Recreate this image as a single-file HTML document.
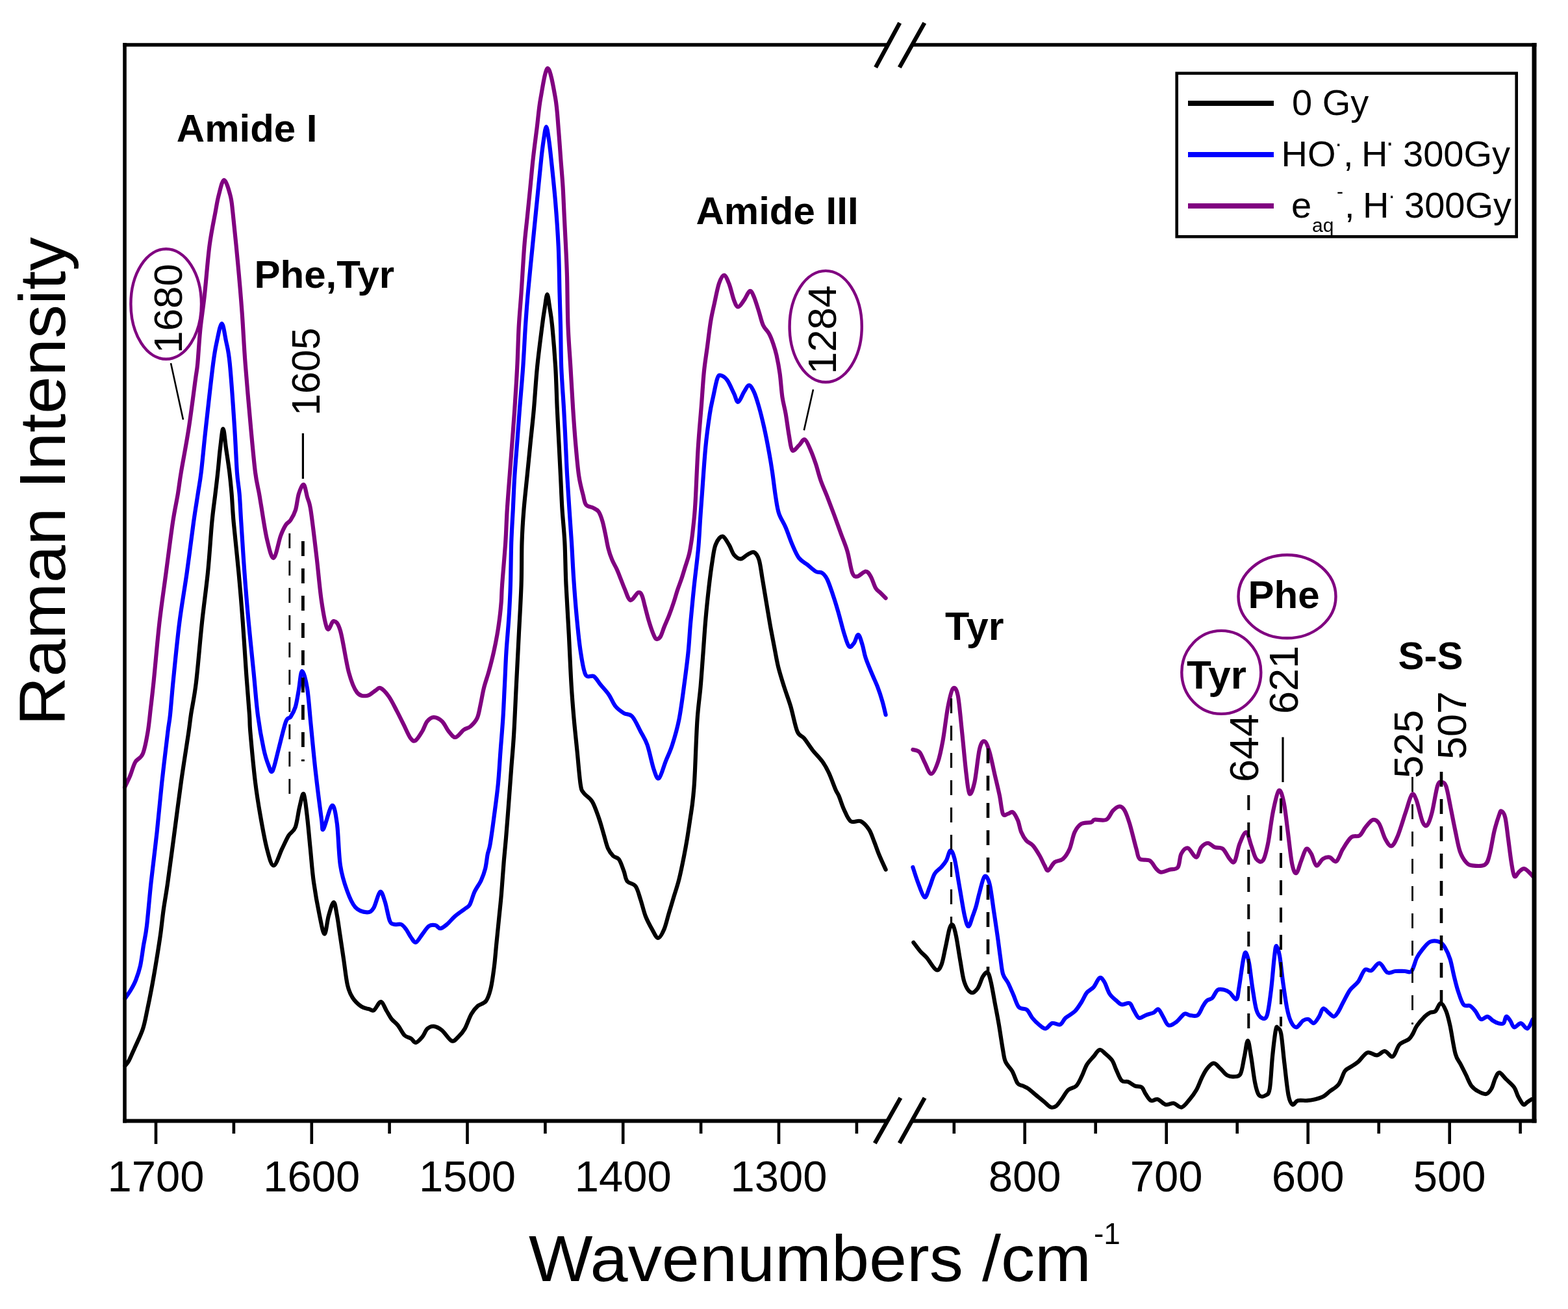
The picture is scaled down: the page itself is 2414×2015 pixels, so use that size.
<!DOCTYPE html>
<html><head><meta charset="utf-8"><title>Raman spectra</title>
<style>
html,body{margin:0;padding:0;background:#fff;}
body{width:2414px;height:2015px;overflow:hidden;}
svg{display:block;}
text{font-family:"Liberation Sans",Arial,sans-serif;fill:#000;}
.b{font-weight:bold;}
</style></head><body>
<svg width="2414" height="2015" viewBox="0 0 2414 2015">
<rect width="2414" height="2015" fill="#fff"/>
<g fill="none" stroke-linejoin="round" stroke-linecap="round">
<path d="M192.0,1212.0 C193.4,1209.0 197.8,1200.3 200.5,1193.8 C203.2,1187.3 205.0,1178.8 208.2,1173.2 C211.4,1167.6 216.6,1168.1 219.8,1160.4 C223.0,1152.7 225.5,1138.7 227.5,1127.0 C229.5,1115.3 230.5,1102.8 232.0,1090.0 C233.5,1077.2 234.2,1072.0 236.5,1050.0 C238.8,1028.0 242.3,986.2 245.5,958.0 C248.7,929.8 252.3,906.7 255.7,881.0 C259.1,855.3 263.0,824.2 266.0,804.0 C269.0,783.8 271.8,772.8 273.9,760.0 C276.0,747.2 276.0,743.7 278.8,727.0 C281.6,710.3 286.8,683.8 290.5,660.0 C294.2,636.2 298.6,600.7 300.9,584.0 C303.2,567.3 302.9,572.9 304.2,560.0 C305.4,547.1 306.6,524.1 308.4,506.7 C310.2,489.3 312.4,476.8 314.8,455.4 C317.2,434.0 319.7,399.8 322.5,378.4 C325.3,357.0 329.1,339.9 331.5,327.0 C333.9,314.1 334.4,309.3 336.6,301.0 C338.9,292.7 342.0,277.0 345.0,277.0 C348.0,277.0 352.4,292.7 354.6,301.0 C356.8,309.3 356.5,309.8 358.4,327.0 C360.3,344.2 363.7,378.3 366.1,404.0 C368.5,429.7 370.7,455.0 372.6,481.0 C374.5,507.0 375.4,530.2 377.7,560.0 C380.0,589.8 383.8,632.2 386.3,660.0 C388.9,687.8 390.9,710.3 393.0,727.0 C395.1,743.7 397.5,751.5 399.0,760.0 C400.5,768.5 400.0,766.3 402.0,778.0 C404.0,789.7 407.8,816.5 411.0,830.0 C414.2,843.5 417.7,859.8 421.2,859.0 C424.7,858.2 428.9,833.5 432.0,825.0 C435.1,816.5 437.4,812.1 440.0,808.0 C442.6,803.9 444.9,804.4 447.4,800.6 C449.9,796.8 452.9,791.8 455.0,785.0 C457.1,778.2 457.9,766.5 460.0,760.0 C462.1,753.5 465.3,745.2 467.5,746.0 C469.7,746.8 471.2,758.3 473.0,765.0 C474.8,771.7 476.1,770.3 478.5,786.0 C480.9,801.7 484.9,835.9 487.6,859.0 C490.3,882.1 492.2,906.5 494.9,924.7 C497.6,942.9 500.9,962.8 504.0,968.0 C507.1,973.2 510.5,955.5 513.8,956.0 C517.1,956.5 520.1,957.8 524.0,971.0 C527.9,984.2 532.7,1019.2 537.0,1035.0 C541.3,1050.8 545.0,1060.0 549.7,1066.0 C554.4,1072.0 560.3,1071.5 565.0,1071.0 C569.7,1070.5 574.5,1065.0 578.0,1063.0 C581.5,1061.0 582.3,1057.7 585.7,1059.2 C589.1,1060.7 594.2,1066.0 598.5,1072.0 C602.8,1078.0 607.4,1087.8 611.3,1095.1 C615.1,1102.4 618.2,1108.8 621.6,1115.7 C625.0,1122.6 628.9,1132.2 631.9,1136.2 C634.9,1140.2 636.6,1141.7 639.6,1140.0 C642.6,1138.3 646.9,1130.9 649.9,1126.0 C652.9,1121.1 654.6,1114.2 657.6,1110.5 C660.6,1106.8 663.9,1104.1 667.8,1104.1 C671.6,1104.1 676.9,1106.8 680.7,1110.5 C684.6,1114.2 687.5,1121.9 690.9,1126.0 C694.3,1130.1 697.4,1135.4 701.2,1135.0 C705.1,1134.6 710.1,1126.2 714.0,1123.4 C717.9,1120.6 720.9,1121.2 724.3,1118.2 C727.7,1115.2 732.0,1111.0 734.6,1105.4 C737.2,1099.9 738.0,1092.6 739.7,1084.9 C741.4,1077.2 742.8,1067.8 744.9,1059.2 C747.0,1050.6 750.0,1042.9 752.6,1033.5 C755.2,1024.1 758.2,1012.1 760.3,1002.7 C762.4,993.3 763.9,985.6 765.4,977.0 C766.9,968.4 768.1,959.8 769.2,951.3 C770.3,942.8 771.1,934.2 771.8,925.7 C772.4,917.2 772.0,915.1 773.1,900.0 C774.2,884.9 776.9,854.5 778.2,835.1 C779.5,815.7 779.7,800.9 780.8,783.8 C781.9,766.7 783.3,749.5 784.6,732.4 C785.9,715.3 787.2,698.1 788.5,681.0 C789.8,663.9 791.0,649.0 792.3,629.7 C793.6,610.5 795.1,586.9 796.2,565.5 C797.3,544.1 797.7,520.5 798.8,501.3 C799.9,482.1 801.2,470.3 802.6,450.0 C804.0,429.7 805.7,398.8 807.2,379.4 C808.7,360.0 810.3,349.0 811.8,333.8 C813.3,318.6 814.9,303.4 816.4,288.2 C817.9,273.0 819.2,257.7 820.9,242.5 C822.6,227.3 824.7,212.1 826.6,196.9 C828.5,181.7 829.5,166.6 832.3,151.3 C835.1,136.0 839.5,105.0 843.3,105.0 C847.1,105.0 852.4,136.0 855.1,151.3 C857.8,166.6 858.4,181.7 859.7,196.9 C861.0,212.1 862.0,227.3 863.1,242.5 C864.2,257.7 865.7,273.0 866.6,288.2 C867.5,303.4 868.0,318.6 868.8,333.8 C869.5,349.0 870.4,364.2 871.1,379.4 C871.8,394.6 872.4,404.7 873.0,425.0 C873.6,445.3 873.6,477.9 874.5,501.3 C875.4,524.7 877.1,544.1 878.4,565.5 C879.7,586.9 880.9,610.5 882.2,629.7 C883.5,649.0 884.5,663.9 886.0,681.0 C887.5,698.1 889.2,718.9 891.2,732.4 C893.2,745.9 895.9,754.8 897.8,762.3 C899.6,769.8 899.8,773.9 902.3,777.1 C904.8,780.3 909.4,779.8 912.6,781.5 C915.8,783.2 919.0,784.0 921.5,787.5 C924.0,791.0 925.8,796.6 927.5,802.3 C929.2,808.0 930.4,814.7 931.9,821.6 C933.4,828.5 934.7,837.2 936.4,843.9 C938.1,850.6 940.1,856.3 942.3,861.7 C944.5,867.1 947.5,871.6 949.7,876.5 C951.9,881.4 953.7,886.3 955.7,891.3 C957.7,896.2 959.1,900.8 961.6,906.2 C964.1,911.7 967.0,923.0 970.5,924.0 C974.0,925.0 979.4,913.3 982.4,912.1 C985.4,910.9 986.6,913.1 988.3,916.6 C990.0,920.1 991.1,926.5 992.8,932.9 C994.5,939.3 996.7,948.4 998.7,955.1 C1000.7,961.8 1002.8,968.2 1004.6,972.9 C1006.5,977.6 1007.8,982.0 1009.8,983.3 C1011.8,984.5 1014.4,983.4 1016.5,980.4 C1018.6,977.4 1020.2,971.0 1022.4,965.5 C1024.6,960.0 1027.4,954.1 1029.9,947.7 C1032.4,941.3 1035.1,933.6 1037.3,926.9 C1039.5,920.2 1041.2,913.6 1043.2,907.7 C1045.2,901.8 1047.1,897.2 1049.1,891.3 C1051.1,885.3 1053.1,878.4 1055.1,872.0 C1057.1,865.6 1059.4,859.5 1061.0,852.8 C1062.6,846.1 1063.7,838.4 1064.7,832.0 C1065.7,825.6 1066.2,820.9 1066.9,814.2 C1067.7,807.5 1068.5,800.1 1069.2,791.9 C1069.9,783.7 1070.1,782.3 1071.0,765.0 C1071.9,747.7 1073.3,711.6 1074.8,688.1 C1076.3,664.6 1078.4,643.1 1079.9,623.9 C1081.4,604.6 1082.3,587.6 1083.8,572.6 C1085.3,557.6 1087.2,546.9 1088.9,534.0 C1090.6,521.1 1092.3,506.2 1094.0,495.5 C1095.7,484.8 1097.0,479.7 1099.2,469.9 C1101.4,460.1 1104.3,444.2 1106.9,436.5 C1109.5,428.8 1112.0,423.6 1114.6,423.6 C1117.2,423.6 1119.7,430.1 1122.3,436.5 C1124.9,442.9 1127.7,456.2 1130.0,462.2 C1132.3,468.2 1133.8,472.4 1136.4,472.4 C1139.0,472.4 1142.4,466.3 1145.4,462.2 C1148.4,458.1 1151.8,448.9 1154.4,448.0 C1157.0,447.1 1158.5,451.6 1160.8,457.0 C1163.1,462.4 1166.2,472.8 1168.5,480.1 C1170.8,487.4 1172.3,495.1 1174.9,500.7 C1177.5,506.3 1181.3,508.8 1183.9,513.5 C1186.5,518.2 1188.4,523.3 1190.3,528.9 C1192.2,534.5 1193.8,539.2 1195.5,546.9 C1197.2,554.6 1199.1,564.4 1200.6,575.1 C1202.1,585.8 1202.9,600.8 1204.4,611.1 C1205.9,621.4 1207.9,626.9 1209.6,636.7 C1211.3,646.5 1213.0,660.7 1214.7,670.1 C1216.4,679.5 1217.2,690.6 1219.8,693.2 C1222.4,695.8 1226.9,688.3 1230.1,685.5 C1233.3,682.7 1236.1,675.2 1239.1,676.5 C1242.1,677.8 1245.3,687.0 1248.1,693.2 C1250.9,699.4 1253.2,706.1 1255.8,713.8 C1258.4,721.5 1260.5,730.8 1263.5,739.4 C1266.5,748.0 1270.4,756.3 1273.8,765.1 C1277.2,773.9 1280.6,782.8 1284.0,792.0 C1287.4,801.2 1290.9,811.0 1294.3,820.5 C1297.7,830.0 1301.6,838.5 1304.6,848.8 C1307.6,859.1 1309.7,875.8 1312.3,882.2 C1314.9,888.6 1316.6,887.7 1320.0,887.3 C1323.4,886.9 1329.4,879.6 1332.8,879.6 C1336.2,879.6 1337.9,883.0 1340.5,887.3 C1343.1,891.6 1345.6,901.0 1348.2,905.3 C1350.8,909.6 1353.3,910.4 1355.9,913.0 C1358.5,915.6 1362.3,919.4 1363.6,920.7" stroke="#800080" stroke-width="6.2"/>
<path d="M192.5,1537.0 C194.0,1534.8 198.5,1528.7 201.3,1524.0 C204.1,1519.3 206.7,1514.8 209.1,1508.6 C211.5,1502.4 213.9,1495.9 215.9,1487.0 C217.9,1478.1 219.3,1465.3 221.0,1455.0 C222.7,1444.7 224.1,1441.2 226.0,1425.0 C227.9,1408.8 230.0,1382.0 232.6,1358.0 C235.2,1334.0 238.8,1306.7 241.6,1281.0 C244.4,1255.3 246.5,1229.7 249.3,1204.0 C252.1,1178.3 256.2,1144.3 258.3,1127.0 C260.4,1109.7 260.6,1113.7 262.0,1100.0 C263.4,1086.3 264.6,1068.7 267.0,1045.0 C269.4,1021.3 272.8,985.3 276.3,958.0 C279.8,930.7 284.2,906.7 287.8,881.0 C291.4,855.3 295.2,824.2 298.0,804.0 C300.8,783.8 302.8,772.8 304.7,760.0 C306.6,747.2 307.7,743.7 309.7,727.0 C311.7,710.3 313.6,687.8 316.7,660.0 C319.8,632.2 325.2,582.5 328.1,560.0 C331.0,537.5 331.8,535.3 334.0,525.0 C336.2,514.7 339.2,498.0 341.5,498.0 C343.8,498.0 345.9,514.7 348.0,525.0 C350.1,535.3 351.6,537.5 353.8,560.0 C356.0,582.5 359.4,632.2 361.2,660.0 C363.0,687.8 363.7,710.3 364.9,727.0 C366.1,743.7 367.5,747.2 368.6,760.0 C369.7,772.8 370.0,783.8 371.3,804.0 C372.6,824.2 374.5,855.3 376.4,881.0 C378.3,906.7 380.4,932.3 382.8,958.0 C385.2,983.7 388.1,1011.1 390.5,1035.0 C392.9,1058.9 394.4,1081.7 397.0,1101.3 C399.6,1120.9 403.2,1140.1 405.9,1152.7 C408.6,1165.3 410.7,1171.3 413.0,1177.0 C415.3,1182.7 416.8,1191.0 419.5,1187.0 C422.2,1183.0 425.6,1165.4 429.0,1152.7 C432.4,1140.0 437.0,1119.0 440.1,1110.8 C443.2,1102.6 445.0,1107.2 447.4,1103.5 C449.8,1099.8 452.6,1095.3 454.7,1088.5 C456.8,1081.7 458.1,1072.0 459.8,1062.8 C461.5,1053.5 462.8,1033.5 465.0,1033.0 C467.2,1032.5 470.8,1046.1 473.0,1059.7 C475.2,1073.3 476.4,1093.2 478.5,1114.5 C480.6,1135.8 483.1,1163.1 485.8,1187.4 C488.5,1211.7 492.9,1245.6 494.9,1260.4 C496.9,1275.2 495.3,1279.4 498.0,1276.0 C500.7,1272.6 507.7,1241.3 511.2,1240.0 C514.7,1238.7 516.8,1252.8 518.9,1268.2 C521.0,1283.6 521.4,1315.3 524.0,1332.4 C526.6,1349.5 530.4,1360.3 534.3,1371.0 C538.1,1381.7 542.0,1391.0 547.1,1396.6 C552.2,1402.1 560.3,1404.1 565.0,1404.3 C569.7,1404.5 571.8,1403.2 575.1,1397.9 C578.5,1392.7 582.2,1374.5 585.1,1372.8 C588.0,1371.1 590.1,1380.3 592.6,1387.8 C595.1,1395.3 597.7,1412.0 600.2,1417.9 C602.7,1423.8 604.8,1422.2 607.7,1423.0 C610.6,1423.8 614.8,1421.8 617.7,1423.0 C620.6,1424.2 622.7,1427.2 625.2,1430.5 C627.7,1433.8 630.3,1439.7 632.8,1443.0 C635.3,1446.3 637.4,1451.4 640.3,1450.6 C643.2,1449.8 646.9,1442.2 650.3,1438.0 C653.6,1433.8 657.0,1427.8 660.4,1425.5 C663.8,1423.2 667.5,1423.6 670.4,1424.2 C673.3,1424.8 675.0,1429.4 677.9,1429.2 C680.8,1429.0 684.2,1426.1 688.0,1423.0 C691.8,1419.9 695.9,1414.4 700.5,1410.4 C705.1,1406.4 711.8,1402.0 715.6,1399.1 C719.4,1396.2 720.6,1397.2 723.1,1392.8 C725.6,1388.4 727.7,1379.1 730.6,1372.8 C733.5,1366.5 738.0,1361.1 740.7,1355.2 C743.4,1349.3 745.3,1344.3 747.0,1337.6 C748.7,1330.9 749.5,1321.3 750.7,1315.0 C752.0,1308.7 752.9,1309.3 754.5,1300.0 C756.1,1290.7 758.3,1274.7 760.3,1259.4 C762.3,1244.1 765.0,1225.1 766.7,1208.0 C768.4,1190.9 769.2,1173.8 770.5,1156.7 C771.8,1139.6 773.3,1122.5 774.4,1105.4 C775.5,1088.3 776.1,1071.1 777.0,1054.0 C777.9,1036.9 778.4,1019.8 779.5,1002.7 C780.6,985.6 782.3,968.4 783.4,951.3 C784.5,934.2 785.3,919.4 785.9,900.0 C786.5,880.6 786.6,854.5 787.2,835.1 C787.9,815.7 788.9,800.9 789.8,783.8 C790.6,766.7 791.2,749.5 792.3,732.4 C793.4,715.3 794.9,698.1 796.2,681.0 C797.5,663.9 798.5,649.0 800.0,629.7 C801.5,610.5 803.7,586.9 805.2,565.5 C806.7,544.1 807.7,520.5 809.0,501.3 C810.3,482.1 811.1,470.3 812.9,450.0 C814.7,429.7 817.5,402.6 819.8,379.4 C822.1,356.2 824.3,333.8 826.6,311.0 C828.9,288.2 831.8,258.5 833.5,242.5 C835.2,226.5 835.8,222.9 837.0,215.0 C838.2,207.1 839.7,195.0 841.0,195.0 C842.3,195.0 843.8,207.1 845.0,215.0 C846.2,222.9 846.6,226.5 848.3,242.5 C850.0,258.5 853.2,288.2 855.1,311.0 C857.0,333.8 858.6,356.2 859.7,379.4 C860.8,402.6 861.0,429.7 861.5,450.0 C862.0,470.3 862.5,482.1 863.0,501.3 C863.5,520.5 863.4,544.1 864.2,565.5 C865.1,586.9 867.0,610.5 868.1,629.7 C869.2,649.0 869.9,663.9 870.7,681.0 C871.6,698.1 872.2,715.3 873.2,732.4 C874.2,749.5 875.4,766.7 876.5,783.8 C877.6,800.9 878.9,817.6 880.0,835.0 C881.1,852.4 881.7,868.6 883.0,888.0 C884.3,907.4 886.2,932.2 888.0,951.3 C889.8,970.4 891.5,988.2 893.8,1002.7 C896.0,1017.2 898.1,1032.2 901.5,1038.6 C904.9,1045.0 910.4,1038.6 914.3,1041.2 C918.1,1043.8 920.8,1049.3 924.6,1054.0 C928.5,1058.7 933.5,1063.8 937.4,1069.4 C941.2,1075.0 943.9,1082.7 947.7,1087.4 C951.6,1092.1 956.2,1095.2 960.5,1097.8 C964.8,1100.4 969.1,1098.3 973.4,1103.0 C977.7,1107.7 982.4,1118.7 986.2,1126.0 C990.1,1133.3 993.1,1136.8 996.5,1146.6 C999.9,1156.4 1003.8,1176.5 1006.8,1185.1 C1009.8,1193.7 1011.5,1200.1 1014.5,1198.0 C1017.5,1195.9 1021.3,1180.9 1024.7,1172.3 C1028.1,1163.7 1031.6,1157.3 1035.0,1146.6 C1038.4,1135.9 1042.3,1123.1 1045.3,1108.1 C1048.3,1093.1 1050.7,1073.8 1053.0,1056.7 C1055.3,1039.6 1057.7,1021.5 1059.4,1005.4 C1061.1,989.3 1061.5,977.1 1063.0,960.0 C1064.5,942.9 1066.5,922.2 1068.5,903.0 C1070.5,883.8 1073.4,862.2 1075.0,845.0 C1076.6,827.8 1077.1,813.3 1078.0,800.0 C1078.9,786.7 1079.1,783.8 1080.5,765.1 C1081.9,746.5 1084.2,709.5 1086.3,688.1 C1088.3,666.7 1090.9,649.5 1092.8,636.7 C1094.7,623.9 1096.0,620.1 1097.9,611.1 C1099.8,602.1 1102.4,588.4 1104.3,582.8 C1106.2,577.2 1106.8,577.3 1109.4,577.7 C1112.0,578.1 1116.3,580.7 1119.7,585.4 C1123.1,590.1 1127.2,600.3 1130.0,605.9 C1132.8,611.5 1133.8,619.2 1136.4,618.8 C1139.0,618.4 1142.6,607.7 1145.4,603.4 C1148.2,599.1 1150.5,593.1 1153.1,593.1 C1155.7,593.1 1158.2,597.8 1160.8,603.4 C1163.4,609.0 1165.9,617.5 1168.5,626.5 C1171.1,635.5 1173.6,645.8 1176.2,657.3 C1178.8,668.8 1181.8,684.2 1183.9,695.8 C1186.0,707.3 1187.3,715.0 1189.0,726.6 C1190.7,738.2 1192.5,754.4 1194.2,765.1 C1195.9,775.8 1196.7,783.0 1199.3,790.8 C1201.9,798.6 1206.2,804.0 1209.6,812.0 C1213.0,820.0 1216.4,830.7 1219.8,838.5 C1223.2,846.3 1226.2,853.9 1230.1,859.0 C1234.0,864.1 1238.7,865.9 1243.0,869.3 C1247.3,872.7 1252.0,877.5 1255.8,879.6 C1259.6,881.8 1263.1,880.1 1266.1,882.2 C1269.1,884.3 1270.8,886.0 1273.8,892.4 C1276.8,898.8 1281.0,911.7 1284.0,920.7 C1287.0,929.7 1289.1,937.3 1291.7,946.3 C1294.3,955.3 1296.8,966.5 1299.4,974.6 C1302.0,982.7 1304.5,992.5 1307.1,995.1 C1309.7,997.7 1312.4,993.0 1314.8,990.0 C1317.2,987.0 1319.1,976.7 1321.3,977.1 C1323.5,977.5 1325.8,986.6 1327.7,992.6 C1329.6,998.6 1330.2,1005.4 1332.8,1013.1 C1335.4,1020.8 1340.1,1031.5 1343.1,1038.8 C1346.1,1046.1 1348.2,1049.9 1350.8,1056.7 C1353.4,1063.5 1356.4,1072.5 1358.5,1079.8 C1360.6,1087.1 1362.8,1097.0 1363.6,1100.4" stroke="#0000ff" stroke-width="6.2"/>
<path d="M192.6,1640.5 C193.6,1639.2 196.0,1637.3 198.4,1632.8 C200.8,1628.3 203.6,1621.5 207.2,1613.4 C210.8,1605.3 216.6,1594.0 219.8,1584.3 C223.0,1574.6 224.2,1566.5 226.6,1555.2 C229.0,1543.9 231.9,1529.3 234.3,1516.4 C236.7,1503.5 238.9,1490.5 241.0,1477.6 C243.1,1464.7 245.2,1451.7 247.0,1438.8 C248.8,1425.9 249.9,1413.5 251.8,1400.0 C253.7,1386.5 255.5,1377.8 258.3,1358.0 C261.1,1338.2 265.2,1306.7 268.6,1281.0 C272.0,1255.3 275.2,1229.7 278.8,1204.0 C282.4,1178.3 287.9,1144.3 290.4,1127.0 C292.9,1109.7 292.1,1112.8 294.0,1100.0 C295.9,1087.2 299.2,1073.7 302.0,1050.0 C304.8,1026.3 308.0,986.2 311.0,958.0 C314.0,929.8 317.4,906.7 320.0,881.0 C322.6,855.3 324.4,824.2 326.3,804.0 C328.2,783.8 330.0,772.8 331.5,760.0 C333.0,747.2 334.1,738.7 335.3,727.0 C336.6,715.3 337.6,701.2 339.0,690.0 C340.4,678.8 342.0,660.0 343.5,660.0 C345.0,660.0 346.4,678.8 348.0,690.0 C349.6,701.2 351.9,715.3 353.3,727.0 C354.7,738.7 355.5,747.2 356.6,760.0 C357.7,772.8 357.9,783.8 359.7,804.0 C361.5,824.2 365.0,855.3 367.4,881.0 C369.8,906.7 371.9,932.3 373.8,958.0 C375.7,983.7 377.3,1011.3 379.0,1035.0 C380.7,1058.7 382.9,1084.7 384.0,1100.0 C385.1,1115.3 383.9,1109.7 385.4,1127.0 C386.9,1144.3 390.4,1182.6 393.0,1204.0 C395.6,1225.4 397.8,1238.3 400.8,1255.4 C403.8,1272.5 407.6,1293.9 411.0,1306.7 C414.4,1319.5 417.4,1332.4 421.3,1332.4 C425.2,1332.4 430.4,1314.4 434.2,1306.7 C438.0,1299.0 441.0,1291.8 444.4,1286.2 C447.8,1280.7 451.9,1280.7 454.7,1273.4 C457.5,1266.1 459.0,1251.2 461.1,1242.6 C463.2,1234.0 465.6,1219.9 467.5,1222.0 C469.4,1224.1 471.0,1241.3 472.7,1255.4 C474.4,1269.5 476.1,1289.6 477.8,1306.7 C479.5,1323.8 480.6,1340.9 483.0,1358.0 C485.4,1375.1 489.2,1396.1 492.0,1409.4 C494.8,1422.7 497.3,1437.7 499.6,1437.7 C501.9,1437.7 503.6,1417.5 506.0,1409.4 C508.4,1401.3 511.6,1388.9 513.8,1388.9 C515.9,1388.9 517.3,1401.1 518.9,1409.4 C520.5,1417.7 521.7,1427.4 523.4,1438.8 C525.1,1450.2 527.3,1464.7 529.2,1477.6 C531.1,1490.5 532.7,1506.7 535.0,1516.4 C537.3,1526.1 539.2,1530.3 542.8,1535.8 C546.3,1541.3 552.1,1546.5 556.3,1549.4 C560.5,1552.3 564.8,1552.4 568.0,1553.3 C571.2,1554.2 572.7,1556.8 575.7,1555.0 C578.8,1553.2 583.1,1542.0 586.3,1542.2 C589.5,1542.4 592.4,1551.6 595.1,1556.0 C597.8,1560.4 599.8,1564.8 602.7,1568.5 C605.6,1572.2 609.4,1574.3 612.7,1578.5 C616.0,1582.7 619.4,1590.2 622.7,1593.6 C626.1,1596.9 629.9,1596.7 632.8,1598.6 C635.7,1600.5 637.4,1605.3 640.3,1604.9 C643.2,1604.5 647.4,1599.6 650.3,1596.1 C653.2,1592.5 655.0,1586.3 657.9,1583.6 C660.8,1580.9 664.1,1579.4 667.9,1579.8 C671.7,1580.2 675.9,1582.3 680.5,1586.1 C685.1,1589.9 691.3,1600.7 695.5,1602.4 C699.7,1604.1 702.1,1599.2 705.5,1596.1 C708.9,1593.0 712.2,1589.4 715.6,1583.6 C719.0,1577.8 722.2,1566.9 725.6,1561.0 C729.0,1555.1 731.9,1551.8 735.7,1548.4 C739.5,1545.1 744.9,1545.5 748.2,1540.9 C751.5,1536.3 753.6,1529.6 755.7,1520.8 C757.8,1512.0 759.3,1499.9 760.8,1488.2 C762.3,1476.5 763.2,1463.1 764.5,1450.6 C765.8,1438.0 767.0,1425.5 768.3,1412.9 C769.5,1400.4 770.8,1389.9 772.0,1375.3 C773.2,1360.7 774.6,1339.3 775.8,1325.1 C777.0,1310.9 777.7,1305.2 779.0,1290.0 C780.3,1274.8 782.0,1251.7 783.4,1233.8 C784.8,1215.9 785.9,1199.5 787.2,1182.4 C788.5,1165.3 789.8,1152.4 791.1,1131.0 C792.4,1109.6 793.6,1079.7 794.9,1054.0 C796.2,1028.3 797.5,1002.7 798.8,977.0 C800.1,951.3 801.8,923.6 802.6,900.0 C803.4,876.4 802.9,854.5 803.5,835.1 C804.1,815.7 805.1,800.9 806.5,783.8 C807.9,766.7 809.9,749.5 811.6,732.4 C813.3,715.3 815.0,698.1 816.7,681.0 C818.4,663.9 820.2,649.0 821.9,629.7 C823.6,610.5 824.9,586.9 827.0,565.5 C829.1,544.1 832.8,516.4 834.7,501.3 C836.6,486.2 837.2,483.1 838.5,475.0 C839.8,466.9 841.2,453.0 842.5,453.0 C843.8,453.0 845.2,466.9 846.5,475.0 C847.8,483.1 848.6,486.2 850.1,501.3 C851.6,516.4 853.9,544.1 855.2,565.5 C856.5,586.9 856.9,610.5 857.8,629.7 C858.7,649.0 859.5,663.9 860.4,681.0 C861.3,698.1 862.1,715.3 863.0,732.4 C863.9,749.5 864.4,766.7 865.5,783.8 C866.6,800.9 868.4,815.7 869.4,835.1 C870.4,854.5 870.4,876.4 871.5,900.0 C872.6,923.6 874.4,951.3 875.8,977.0 C877.1,1002.7 878.3,1032.6 879.6,1054.0 C880.9,1075.4 882.0,1088.3 883.5,1105.4 C885.0,1122.5 886.9,1139.6 888.6,1156.7 C890.3,1173.8 892.1,1197.3 893.8,1208.0 C895.5,1218.7 895.9,1216.7 898.9,1221.0 C901.9,1225.3 907.9,1227.4 911.7,1233.8 C915.6,1240.2 919.0,1250.9 922.0,1259.4 C925.0,1268.0 927.4,1277.3 929.7,1285.1 C932.0,1292.9 933.6,1300.6 936.0,1306.0 C938.4,1311.4 941.2,1314.8 944.0,1317.6 C946.8,1320.4 950.2,1319.1 953.0,1323.0 C955.8,1326.9 958.4,1335.6 960.5,1341.2 C962.6,1346.8 962.7,1352.8 965.7,1356.6 C968.7,1360.4 975.1,1359.6 978.5,1364.3 C981.9,1369.0 983.6,1377.2 986.2,1384.9 C988.8,1392.6 990.9,1402.8 993.9,1410.5 C996.9,1418.2 1001.0,1425.5 1004.2,1431.1 C1007.4,1436.7 1010.2,1443.9 1013.2,1443.9 C1016.2,1443.9 1019.4,1437.5 1022.2,1431.1 C1025.0,1424.7 1027.3,1414.0 1029.9,1405.4 C1032.5,1396.8 1035.0,1388.3 1037.6,1379.7 C1040.2,1371.1 1042.7,1364.3 1045.3,1354.0 C1047.9,1343.7 1050.9,1328.8 1053.0,1318.1 C1055.1,1307.4 1056.6,1298.9 1058.1,1289.9 C1059.6,1280.9 1060.7,1272.8 1062.0,1264.2 C1063.3,1255.6 1064.7,1247.1 1065.8,1238.5 C1066.9,1229.9 1067.7,1221.7 1068.4,1212.8 C1069.1,1203.9 1069.2,1202.5 1070.0,1185.1 C1070.8,1167.6 1072.1,1129.5 1073.5,1108.1 C1074.9,1086.7 1077.1,1073.8 1078.6,1056.7 C1080.1,1039.6 1081.2,1022.5 1082.5,1005.4 C1083.8,988.3 1084.8,971.1 1086.3,954.0 C1087.8,936.9 1089.8,917.7 1091.5,902.7 C1093.2,887.7 1094.9,874.9 1096.6,864.2 C1098.3,853.5 1099.1,844.9 1101.7,838.5 C1104.3,832.1 1108.6,825.7 1112.0,825.7 C1115.4,825.7 1119.3,833.8 1122.3,838.5 C1125.3,843.2 1127.0,850.3 1130.0,853.9 C1133.0,857.5 1136.9,860.3 1140.3,860.3 C1143.7,860.3 1147.1,855.6 1150.5,853.9 C1153.9,852.2 1157.8,848.8 1160.8,850.1 C1163.8,851.4 1166.4,855.0 1168.5,861.6 C1170.6,868.2 1171.7,878.8 1173.6,889.9 C1175.5,901.0 1177.8,915.6 1180.0,928.4 C1182.2,941.2 1184.3,954.9 1186.5,966.9 C1188.7,978.9 1191.0,990.5 1192.9,1000.3 C1194.8,1010.1 1195.7,1016.5 1198.0,1025.9 C1200.3,1035.3 1203.8,1046.4 1207.0,1056.7 C1210.2,1067.0 1213.9,1076.0 1217.3,1087.5 C1220.7,1099.0 1224.1,1117.9 1227.5,1126.0 C1230.9,1134.1 1233.9,1131.6 1237.8,1136.3 C1241.7,1141.0 1246.0,1148.3 1250.7,1154.3 C1255.4,1160.3 1261.8,1166.3 1266.1,1172.3 C1270.4,1178.3 1272.9,1182.9 1276.3,1190.2 C1279.7,1197.5 1284.0,1210.0 1286.6,1215.9 C1289.2,1221.8 1289.6,1220.7 1291.7,1225.7 C1293.8,1230.8 1296.4,1239.8 1299.4,1246.2 C1302.4,1252.6 1305.4,1261.2 1309.7,1264.2 C1314.0,1267.2 1320.4,1262.1 1325.1,1264.2 C1329.8,1266.3 1334.5,1271.9 1337.9,1277.0 C1341.3,1282.1 1343.0,1288.6 1345.6,1295.0 C1348.2,1301.4 1350.3,1308.2 1353.3,1315.5 C1356.3,1322.8 1361.9,1334.8 1363.6,1338.6" stroke="#000000" stroke-width="6.2"/>
<path d="M1405.4,1154.0 C1407.1,1154.6 1412.7,1154.6 1415.7,1157.8 C1418.7,1161.0 1420.4,1167.6 1423.4,1173.2 C1426.4,1178.8 1430.2,1191.2 1433.6,1191.2 C1437.0,1191.2 1440.9,1181.8 1443.9,1173.2 C1446.9,1164.7 1449.0,1154.0 1451.6,1139.9 C1454.2,1125.8 1456.7,1101.8 1459.3,1088.5 C1461.9,1075.2 1464.4,1063.0 1467.0,1060.0 C1469.6,1057.0 1472.4,1059.3 1474.7,1070.5 C1477.0,1081.7 1478.9,1106.9 1481.1,1127.0 C1483.2,1147.1 1485.7,1175.4 1487.6,1191.2 C1489.5,1207.0 1490.6,1219.9 1492.7,1222.0 C1494.8,1224.1 1497.8,1215.5 1500.4,1204.0 C1503.0,1192.5 1505.5,1163.2 1508.1,1152.7 C1510.7,1142.2 1513.2,1140.2 1515.8,1141.1 C1518.4,1141.9 1520.9,1149.4 1523.5,1157.8 C1526.1,1166.2 1528.6,1180.1 1531.2,1191.2 C1533.8,1202.3 1536.8,1214.3 1538.9,1224.6 C1541.0,1234.9 1541.9,1248.1 1544.0,1252.8 C1546.1,1257.5 1549.1,1253.2 1551.7,1252.8 C1554.3,1252.4 1556.8,1248.6 1559.4,1250.3 C1562.0,1252.0 1564.9,1258.0 1567.1,1263.1 C1569.2,1268.2 1570.1,1276.0 1572.3,1281.1 C1574.5,1286.2 1577.0,1290.5 1580.0,1293.9 C1583.0,1297.3 1586.9,1297.8 1590.3,1301.6 C1593.7,1305.4 1597.5,1311.9 1600.5,1317.0 C1603.5,1322.1 1606.0,1328.6 1608.2,1332.4 C1610.4,1336.2 1610.8,1340.9 1613.4,1340.1 C1616.0,1339.2 1619.8,1330.3 1623.6,1327.3 C1627.4,1324.3 1632.7,1325.5 1636.5,1322.1 C1640.3,1318.7 1643.7,1313.5 1646.7,1306.7 C1649.7,1299.9 1651.4,1287.5 1654.4,1281.1 C1657.4,1274.7 1660.4,1270.8 1664.7,1268.2 C1669.0,1265.6 1676.7,1266.8 1680.1,1265.7 C1683.5,1264.6 1681.3,1262.5 1685.2,1261.8 C1689.1,1261.1 1698.5,1264.1 1703.2,1261.8 C1707.9,1259.5 1710.1,1251.1 1713.5,1247.7 C1716.9,1244.3 1720.8,1241.3 1723.8,1241.3 C1726.8,1241.3 1728.9,1243.2 1731.5,1247.7 C1734.1,1252.2 1736.2,1258.4 1739.2,1268.2 C1742.2,1278.0 1746.8,1297.7 1749.4,1306.7 C1752.0,1315.7 1751.2,1319.1 1754.6,1322.1 C1758.0,1325.1 1765.7,1322.1 1770.0,1324.7 C1774.3,1327.3 1777.2,1334.5 1780.2,1337.5 C1783.2,1340.5 1784.3,1342.5 1787.7,1342.7 C1791.1,1342.9 1796.2,1340.1 1800.5,1338.8 C1804.8,1337.5 1810.4,1339.1 1813.4,1335.0 C1816.4,1330.9 1815.9,1319.3 1818.5,1314.4 C1821.1,1309.5 1825.0,1304.6 1828.8,1305.5 C1832.6,1306.4 1838.2,1319.8 1841.6,1319.6 C1845.0,1319.4 1846.3,1307.8 1849.3,1304.2 C1852.3,1300.6 1856.2,1297.8 1859.6,1297.8 C1863.0,1297.8 1866.1,1302.7 1869.9,1304.2 C1873.8,1305.7 1878.9,1303.7 1882.7,1306.7 C1886.5,1309.7 1890.0,1318.9 1893.0,1322.1 C1896.0,1325.3 1898.1,1329.8 1900.7,1326.0 C1903.3,1322.2 1905.4,1306.5 1908.4,1299.0 C1911.4,1291.5 1915.6,1280.7 1918.6,1281.1 C1921.6,1281.5 1923.7,1294.8 1926.3,1301.6 C1928.9,1308.4 1931.0,1318.2 1934.0,1322.1 C1937.0,1325.9 1941.3,1328.5 1944.3,1324.7 C1947.3,1320.9 1949.4,1311.4 1952.0,1299.0 C1954.6,1286.6 1956.9,1264.0 1959.7,1250.3 C1962.5,1236.6 1965.9,1219.5 1968.7,1216.9 C1971.5,1214.3 1974.1,1224.2 1976.4,1234.9 C1978.8,1245.6 1980.7,1265.3 1982.8,1281.1 C1984.9,1296.9 1987.0,1319.3 1989.2,1329.8 C1991.4,1340.3 1993.3,1344.8 1995.7,1344.0 C1998.1,1343.2 2000.8,1330.9 2003.4,1324.7 C2006.0,1318.5 2008.5,1308.4 2011.1,1306.7 C2013.7,1305.0 2016.2,1310.1 2018.8,1314.4 C2021.4,1318.7 2023.5,1331.1 2026.5,1332.4 C2029.5,1333.7 2033.3,1324.2 2036.7,1322.1 C2040.1,1320.0 2043.6,1318.9 2047.0,1319.6 C2050.4,1320.2 2053.9,1328.2 2057.3,1326.0 C2060.7,1323.8 2063.7,1312.9 2067.5,1306.7 C2071.3,1300.5 2076.1,1292.2 2080.4,1288.8 C2084.7,1285.4 2089.5,1288.8 2093.2,1286.2 C2096.9,1283.6 2099.1,1277.0 2102.5,1273.0 C2105.9,1269.0 2110.2,1262.9 2113.6,1262.0 C2117.0,1261.1 2119.9,1262.7 2123.1,1267.6 C2126.3,1272.5 2129.5,1285.7 2132.7,1291.5 C2135.9,1297.3 2139.1,1303.1 2142.3,1302.3 C2145.5,1301.5 2148.3,1295.3 2151.9,1286.7 C2155.5,1278.1 2160.3,1261.4 2163.9,1250.8 C2167.5,1240.2 2170.7,1226.4 2173.5,1223.2 C2176.3,1220.0 2177.8,1224.6 2180.6,1231.6 C2183.4,1238.6 2187.4,1258.8 2190.2,1265.2 C2193.0,1271.6 2195.0,1272.4 2197.4,1270.0 C2199.8,1267.6 2202.0,1260.8 2204.6,1250.8 C2207.2,1240.8 2210.6,1217.8 2213.0,1210.0 C2215.4,1202.2 2216.8,1204.1 2219.0,1204.1 C2221.2,1204.1 2223.8,1203.4 2226.2,1210.0 C2228.6,1216.6 2231.0,1232.0 2233.4,1243.6 C2235.8,1255.2 2238.2,1268.3 2240.6,1279.5 C2243.0,1290.7 2244.9,1302.7 2247.7,1310.7 C2250.5,1318.7 2254.1,1323.9 2257.3,1327.5 C2260.5,1331.1 2262.1,1331.7 2266.9,1332.3 C2271.7,1332.9 2281.7,1333.9 2286.1,1331.1 C2290.5,1328.3 2290.9,1324.1 2293.3,1315.5 C2295.7,1306.9 2298.1,1289.5 2300.5,1279.5 C2302.9,1269.5 2305.8,1260.8 2307.6,1255.6 C2309.4,1250.4 2309.6,1248.0 2311.2,1248.4 C2312.8,1248.8 2315.4,1250.8 2317.2,1258.0 C2319.0,1265.2 2320.4,1279.9 2322.0,1291.5 C2323.6,1303.1 2325.2,1317.9 2326.8,1327.5 C2328.4,1337.1 2329.6,1346.6 2331.6,1349.0 C2333.6,1351.4 2336.4,1343.8 2338.8,1341.8 C2341.2,1339.8 2343.6,1337.1 2346.0,1337.1 C2348.4,1337.1 2350.9,1339.8 2353.2,1341.8 C2355.5,1343.8 2358.9,1347.8 2360.0,1349.0" stroke="#800080" stroke-width="6.2"/>
<path d="M1405.4,1335.0 C1406.7,1338.8 1410.1,1350.4 1413.1,1358.1 C1416.1,1365.8 1420.4,1379.9 1423.4,1381.2 C1426.4,1382.5 1428.5,1371.8 1431.1,1365.8 C1433.7,1359.8 1435.8,1350.3 1438.8,1345.2 C1441.8,1340.1 1446.0,1338.4 1449.0,1335.0 C1452.0,1331.6 1454.4,1329.0 1456.8,1324.7 C1459.2,1320.4 1461.1,1309.7 1463.2,1309.3 C1465.3,1308.9 1467.2,1312.7 1469.6,1322.1 C1471.9,1331.5 1474.7,1351.2 1477.3,1365.8 C1479.9,1380.3 1482.7,1399.4 1485.0,1409.4 C1487.3,1419.4 1488.9,1426.0 1491.0,1426.0 C1493.1,1426.0 1495.8,1414.7 1497.8,1409.4 C1499.8,1404.1 1501.2,1400.4 1502.9,1394.4 C1504.6,1388.4 1505.9,1381.0 1508.1,1373.5 C1510.2,1366.0 1513.2,1351.2 1515.8,1349.1 C1518.4,1347.0 1521.2,1351.9 1523.5,1360.7 C1525.8,1369.5 1527.9,1388.2 1529.9,1401.7 C1532.0,1415.2 1534.1,1429.8 1535.8,1441.6 C1537.5,1453.4 1538.5,1462.8 1539.9,1472.4 C1541.3,1482.0 1542.0,1492.2 1544.0,1499.1 C1546.0,1505.9 1549.5,1508.0 1552.2,1513.5 C1554.9,1519.0 1557.7,1525.8 1560.4,1532.0 C1563.1,1538.2 1565.2,1546.7 1568.6,1550.4 C1572.0,1554.2 1577.6,1551.8 1581.0,1554.5 C1584.4,1557.2 1586.1,1563.1 1589.2,1566.9 C1592.3,1570.7 1596.0,1574.4 1599.4,1577.1 C1602.8,1579.8 1606.3,1583.6 1609.7,1583.3 C1613.1,1583.0 1616.2,1576.1 1620.0,1575.1 C1623.8,1574.1 1628.9,1578.5 1632.3,1577.1 C1635.7,1575.7 1636.7,1570.3 1640.5,1566.9 C1644.3,1563.5 1650.8,1560.7 1654.9,1556.6 C1659.0,1552.5 1662.1,1547.0 1665.2,1542.2 C1668.3,1537.4 1670.3,1531.6 1673.4,1527.8 C1676.5,1524.0 1680.3,1523.3 1683.6,1519.6 C1686.8,1515.8 1690.2,1506.7 1692.9,1505.3 C1695.7,1503.9 1697.5,1507.3 1700.1,1511.4 C1702.7,1515.5 1705.2,1525.1 1708.3,1529.9 C1711.4,1534.7 1715.4,1537.5 1718.5,1540.2 C1721.6,1542.9 1723.4,1545.6 1726.8,1546.3 C1730.2,1547.0 1736.0,1542.9 1739.1,1544.3 C1742.2,1545.7 1742.8,1550.7 1745.2,1554.5 C1747.6,1558.3 1750.3,1565.5 1753.4,1566.9 C1756.5,1568.3 1759.9,1564.2 1763.7,1562.8 C1767.5,1561.4 1772.9,1560.2 1776.2,1558.7 C1779.5,1557.2 1780.9,1552.5 1783.3,1553.5 C1785.7,1554.5 1787.9,1560.7 1790.5,1564.8 C1793.1,1568.9 1795.4,1576.8 1798.8,1578.2 C1802.2,1579.6 1807.0,1576.0 1811.1,1573.1 C1815.2,1570.2 1820.0,1562.4 1823.4,1560.7 C1826.8,1559.0 1828.2,1562.5 1831.6,1562.8 C1835.0,1563.1 1840.5,1565.2 1843.9,1562.8 C1847.3,1560.4 1849.8,1552.2 1852.2,1548.4 C1854.6,1544.6 1855.9,1542.2 1858.3,1540.2 C1860.7,1538.2 1863.8,1538.8 1866.5,1536.1 C1869.2,1533.4 1871.6,1525.8 1874.7,1523.8 C1877.8,1521.8 1881.9,1523.1 1885.0,1523.8 C1888.1,1524.5 1890.1,1525.5 1893.2,1527.9 C1896.3,1530.3 1901.1,1539.5 1903.5,1538.1 C1905.9,1536.7 1905.9,1529.6 1907.6,1519.7 C1909.3,1509.8 1912.1,1487.5 1913.8,1478.6 C1915.5,1469.7 1916.4,1465.6 1917.9,1466.3 C1919.4,1467.0 1921.3,1473.8 1923.0,1482.7 C1924.7,1491.6 1926.2,1507.7 1928.1,1519.7 C1930.0,1531.7 1931.9,1546.7 1934.3,1554.6 C1936.7,1562.5 1939.8,1565.5 1942.5,1566.9 C1945.2,1568.3 1948.3,1570.0 1950.7,1562.8 C1953.1,1555.6 1955.0,1538.9 1956.9,1523.8 C1958.8,1508.7 1960.6,1483.7 1962.0,1472.4 C1963.4,1461.1 1963.7,1456.0 1965.1,1456.0 C1966.5,1456.0 1968.5,1462.8 1970.2,1472.4 C1971.9,1482.0 1973.5,1500.2 1975.4,1513.5 C1977.3,1526.8 1979.5,1542.6 1981.5,1552.5 C1983.5,1562.4 1985.3,1568.3 1987.7,1573.1 C1990.1,1577.9 1992.8,1581.6 1995.9,1581.3 C1999.0,1581.0 2003.1,1573.0 2006.2,1571.0 C2009.3,1569.0 2011.7,1568.3 2014.4,1569.0 C2017.1,1569.7 2019.9,1575.8 2022.6,1575.1 C2025.3,1574.4 2028.4,1568.6 2030.8,1564.8 C2033.2,1561.0 2034.6,1553.5 2037.0,1552.5 C2039.4,1551.5 2042.5,1556.7 2045.2,1558.7 C2047.9,1560.8 2050.9,1564.9 2053.4,1564.8 C2055.9,1564.7 2057.5,1561.8 2060.0,1558.0 C2062.5,1554.2 2065.1,1548.0 2068.2,1542.3 C2071.3,1536.6 2074.7,1528.9 2078.5,1523.8 C2082.3,1518.7 2087.0,1516.5 2090.8,1511.4 C2094.6,1506.3 2097.7,1495.9 2101.1,1493.0 C2104.5,1490.1 2107.5,1495.7 2111.3,1494.0 C2115.1,1492.3 2119.6,1482.2 2123.7,1482.7 C2127.8,1483.2 2131.9,1495.0 2136.0,1497.1 C2140.1,1499.1 2143.9,1495.3 2148.3,1495.0 C2152.8,1494.7 2158.6,1495.0 2162.7,1495.0 C2166.8,1495.0 2169.9,1498.4 2173.0,1495.0 C2176.1,1491.6 2178.5,1480.0 2181.2,1474.5 C2183.9,1469.0 2186.0,1466.3 2189.4,1462.2 C2192.8,1458.1 2197.2,1451.9 2201.7,1449.8 C2206.1,1447.7 2212.3,1448.4 2216.1,1449.8 C2219.9,1451.2 2221.6,1453.5 2224.3,1458.0 C2227.0,1462.5 2230.1,1469.0 2232.5,1476.5 C2234.9,1484.0 2236.6,1495.0 2238.7,1503.2 C2240.8,1511.4 2242.4,1518.6 2244.8,1525.8 C2247.2,1533.0 2250.0,1542.6 2253.1,1546.4 C2256.2,1550.2 2260.2,1546.7 2263.3,1548.4 C2266.4,1550.1 2268.8,1553.2 2271.5,1556.6 C2274.2,1560.0 2276.7,1567.6 2279.8,1569.0 C2282.9,1570.4 2286.9,1564.5 2290.0,1564.8 C2293.1,1565.1 2295.4,1569.3 2298.2,1571.0 C2300.9,1572.7 2303.8,1574.4 2306.5,1575.1 C2309.2,1575.8 2312.6,1576.8 2314.7,1575.1 C2316.8,1573.4 2317.1,1565.5 2318.8,1564.8 C2320.5,1564.1 2322.9,1568.2 2325.0,1571.0 C2327.1,1573.8 2328.4,1580.6 2331.1,1581.3 C2333.8,1582.0 2338.0,1574.8 2341.4,1575.1 C2344.8,1575.4 2348.5,1584.3 2351.6,1583.3 C2354.7,1582.3 2358.5,1571.3 2359.9,1568.9" stroke="#0000ff" stroke-width="6.2"/>
<path d="M1406.4,1450.8 C1408.1,1453.0 1413.3,1460.2 1416.7,1464.2 C1420.1,1468.2 1422.9,1469.7 1427.0,1474.5 C1431.1,1479.3 1437.5,1491.3 1441.3,1493.0 C1445.0,1494.7 1447.1,1490.5 1449.5,1484.7 C1451.9,1478.9 1453.6,1467.2 1455.7,1458.0 C1457.8,1448.8 1460.0,1435.0 1461.9,1429.3 C1463.8,1423.6 1465.3,1422.0 1467.0,1424.1 C1468.7,1426.1 1470.2,1432.5 1472.1,1441.6 C1474.0,1450.7 1476.2,1467.0 1478.3,1478.6 C1480.4,1490.2 1481.8,1503.2 1484.5,1511.4 C1487.2,1519.6 1491.3,1526.1 1494.7,1527.8 C1498.1,1529.5 1501.9,1525.8 1505.0,1521.7 C1508.1,1517.6 1510.6,1507.3 1513.2,1503.2 C1515.8,1499.1 1518.4,1495.6 1520.4,1497.0 C1522.5,1498.4 1523.6,1503.5 1525.5,1511.4 C1527.4,1519.3 1529.7,1533.3 1531.7,1544.3 C1533.8,1555.2 1535.8,1565.1 1537.8,1577.1 C1539.8,1589.1 1542.3,1606.5 1544.0,1616.1 C1545.7,1625.7 1545.7,1629.1 1548.1,1634.6 C1550.5,1640.1 1555.3,1643.5 1558.4,1649.0 C1561.5,1654.5 1563.9,1663.7 1566.6,1667.5 C1569.3,1671.3 1572.1,1670.2 1574.8,1671.6 C1577.5,1673.0 1579.6,1673.3 1583.0,1675.7 C1586.4,1678.1 1591.2,1682.6 1595.3,1686.0 C1599.4,1689.4 1603.9,1693.1 1607.7,1696.2 C1611.5,1699.3 1614.8,1703.4 1617.9,1704.4 C1621.0,1705.4 1623.3,1704.5 1626.1,1702.4 C1628.8,1700.4 1631.3,1696.2 1634.4,1692.1 C1637.5,1688.0 1640.8,1681.1 1644.6,1677.7 C1648.3,1674.3 1653.5,1675.0 1656.9,1671.6 C1660.3,1668.2 1662.5,1662.7 1665.2,1657.2 C1668.0,1651.7 1670.3,1643.8 1673.4,1638.7 C1676.5,1633.6 1680.3,1630.2 1683.6,1626.4 C1686.8,1622.6 1689.8,1616.8 1692.9,1616.1 C1696.0,1615.4 1698.8,1619.5 1702.1,1622.3 C1705.3,1625.0 1709.7,1628.5 1712.4,1632.6 C1715.1,1636.7 1716.1,1641.8 1718.5,1646.9 C1720.9,1652.0 1723.7,1660.3 1726.8,1663.4 C1729.9,1666.5 1733.6,1664.0 1737.0,1665.4 C1740.4,1666.8 1743.9,1670.2 1747.3,1671.6 C1750.7,1673.0 1754.9,1671.5 1757.6,1673.6 C1760.3,1675.6 1761.3,1680.5 1763.7,1683.9 C1766.1,1687.3 1768.8,1692.8 1771.9,1694.2 C1775.0,1695.6 1778.5,1691.2 1782.3,1692.2 C1786.1,1693.2 1790.5,1699.4 1794.6,1700.4 C1798.7,1701.4 1802.9,1697.6 1807.0,1698.3 C1811.1,1699.0 1815.2,1705.5 1819.3,1704.5 C1823.4,1703.5 1827.8,1696.7 1831.6,1692.2 C1835.4,1687.8 1838.8,1683.3 1841.9,1677.8 C1845.0,1672.3 1847.4,1664.8 1850.1,1659.3 C1852.8,1653.8 1855.2,1648.8 1858.3,1645.0 C1861.4,1641.2 1865.2,1636.7 1868.6,1636.7 C1872.0,1636.7 1875.5,1641.9 1878.9,1645.0 C1882.3,1648.1 1885.7,1653.2 1889.1,1655.2 C1892.5,1657.2 1896.0,1657.6 1899.4,1657.3 C1902.8,1657.0 1907.0,1658.3 1909.7,1653.2 C1912.4,1648.1 1913.9,1635.0 1915.8,1626.4 C1917.7,1617.8 1919.3,1601.8 1921.0,1601.8 C1922.7,1601.8 1924.2,1615.5 1926.1,1626.4 C1928.0,1637.4 1930.2,1657.6 1932.3,1667.5 C1934.3,1677.4 1935.7,1682.9 1938.4,1686.0 C1941.1,1689.1 1946.0,1687.7 1948.7,1686.0 C1951.4,1684.3 1953.1,1685.6 1954.8,1675.7 C1956.5,1665.8 1957.5,1641.5 1959.0,1626.4 C1960.5,1611.4 1962.7,1592.8 1964.1,1585.4 C1965.5,1578.1 1965.8,1581.3 1967.2,1582.3 C1968.6,1583.3 1970.6,1582.4 1972.3,1591.5 C1974.0,1600.6 1975.5,1621.0 1977.4,1636.7 C1979.3,1652.5 1981.5,1675.4 1983.6,1686.0 C1985.7,1696.6 1987.4,1699.0 1989.8,1700.4 C1992.2,1701.8 1994.2,1695.2 1998.0,1694.2 C2001.8,1693.2 2008.0,1694.5 2012.4,1694.2 C2016.9,1693.9 2020.6,1693.2 2024.7,1692.2 C2028.8,1691.2 2033.2,1690.1 2037.0,1688.1 C2040.8,1686.0 2043.3,1683.1 2047.3,1679.9 C2051.3,1676.7 2057.2,1674.2 2061.0,1669.0 C2064.8,1663.8 2067.4,1653.3 2070.3,1649.0 C2073.2,1644.7 2075.1,1645.3 2078.5,1642.9 C2081.9,1640.5 2086.4,1638.5 2090.8,1634.7 C2095.2,1630.9 2100.4,1622.0 2105.2,1620.3 C2110.0,1618.6 2115.1,1624.8 2119.6,1624.4 C2124.1,1624.1 2127.8,1617.9 2131.9,1618.2 C2136.0,1618.5 2140.4,1628.1 2144.2,1626.4 C2148.0,1624.7 2150.4,1612.4 2154.5,1608.0 C2158.6,1603.6 2165.5,1602.5 2168.9,1599.8 C2172.3,1597.0 2172.9,1594.9 2175.0,1591.5 C2177.1,1588.1 2178.1,1583.7 2181.2,1579.2 C2184.3,1574.8 2190.1,1568.2 2193.5,1564.8 C2196.9,1561.4 2199.0,1560.1 2201.7,1558.7 C2204.4,1557.3 2207.2,1559.0 2209.9,1556.6 C2212.6,1554.2 2215.3,1544.3 2218.1,1544.3 C2220.8,1544.3 2224.0,1550.8 2226.4,1556.6 C2228.8,1562.4 2230.1,1568.2 2232.5,1579.2 C2234.9,1590.2 2237.9,1612.4 2240.7,1622.3 C2243.4,1632.2 2246.2,1633.3 2249.0,1638.8 C2251.8,1644.3 2254.5,1649.7 2257.2,1655.2 C2259.9,1660.7 2262.3,1667.5 2265.4,1671.6 C2268.5,1675.7 2271.8,1677.8 2275.6,1679.9 C2279.4,1682.0 2284.6,1684.7 2288.0,1684.0 C2291.4,1683.3 2293.8,1679.8 2296.2,1675.7 C2298.6,1671.6 2300.2,1663.4 2302.3,1659.3 C2304.4,1655.2 2305.8,1650.8 2308.5,1651.1 C2311.2,1651.4 2315.0,1657.6 2318.8,1661.4 C2322.6,1665.2 2328.0,1669.3 2331.1,1673.7 C2334.2,1678.1 2334.9,1683.5 2337.3,1688.0 C2339.7,1692.5 2343.1,1699.0 2345.5,1700.4 C2347.9,1701.8 2349.5,1697.7 2351.6,1696.3 C2353.7,1694.9 2356.8,1692.9 2357.8,1692.2" stroke="#000000" stroke-width="6.2"/>
</g>
<g stroke="#000" fill="none">
<line x1="466.4" y1="833" x2="466.4" y2="1172" stroke-width="4.8" stroke-dasharray="23 19"/>
<line x1="445.8" y1="821" x2="445.8" y2="1240" stroke-width="2.8" stroke-dasharray="23 19"/>
<line x1="1464.5" y1="1075" x2="1464.5" y2="1421" stroke-width="3.2" stroke-dasharray="23 19"/>
<line x1="1521" y1="1152" x2="1521" y2="1497" stroke-width="4.6" stroke-dasharray="23 19"/>
<line x1="1922.3" y1="1224" x2="1922.3" y2="1600" stroke-width="4.0" stroke-dasharray="23 19"/>
<line x1="1972" y1="1229" x2="1972" y2="1580" stroke-width="4.0" stroke-dasharray="23 19"/>
<line x1="2174.5" y1="1196" x2="2174.5" y2="1577" stroke-width="2.8" stroke-dasharray="23 19"/>
<line x1="2219" y1="1188" x2="2219" y2="1544" stroke-width="4.6" stroke-dasharray="23 19"/>
<line x1="466.4" y1="667" x2="466.4" y2="737" stroke-width="3.2"/>
<line x1="1975" y1="1134.7" x2="1975" y2="1204" stroke-width="3.2"/>
<line x1="263" y1="559" x2="282" y2="646" stroke-width="2.6"/>
<line x1="1252" y1="599.5" x2="1237.8" y2="662.4" stroke-width="2.6"/>
</g>
<g fill="none" stroke="#800080" stroke-width="4.4">
<ellipse cx="255.7" cy="468" rx="54.3" ry="84.8"/>
<ellipse cx="1271.2" cy="502.6" rx="55.6" ry="85.7"/>
<ellipse cx="1981.5" cy="918.3" rx="75" ry="64"/>
<ellipse cx="1880.3" cy="1034.9" rx="61" ry="64"/>
</g>
<g stroke="#000" fill="none" stroke-linecap="butt">
<line x1="192" y1="66" x2="192" y2="1728.5" stroke-width="5.6"/>
<line x1="2362" y1="66" x2="2362" y2="1728.5" stroke-width="7"/>
<line x1="189.2" y1="69" x2="1366" y2="69" stroke-width="5.6"/>
<line x1="1405.5" y1="69" x2="2365.5" y2="69" stroke-width="5.6"/>
<line x1="189.2" y1="1725.5" x2="1366" y2="1725.5" stroke-width="6"/>
<line x1="1404" y1="1725.5" x2="2365.5" y2="1725.5" stroke-width="6"/>
<line x1="1348.1" y1="103.8" x2="1385.2" y2="35.2" stroke-width="6.4"/>
<line x1="1384.8" y1="103.8" x2="1423.3" y2="35.2" stroke-width="6.4"/>
<line x1="1346.8" y1="1759.8" x2="1386.4" y2="1690" stroke-width="6.4"/>
<line x1="1384.8" y1="1759.8" x2="1423.6" y2="1690" stroke-width="6.4"/>
<line x1="240.0" y1="1728" x2="240.0" y2="1761" stroke-width="4.6"/>
<line x1="479.8" y1="1728" x2="479.8" y2="1761" stroke-width="4.6"/>
<line x1="719.5" y1="1728" x2="719.5" y2="1761" stroke-width="4.6"/>
<line x1="959.2" y1="1728" x2="959.2" y2="1761" stroke-width="4.6"/>
<line x1="1199.0" y1="1728" x2="1199.0" y2="1761" stroke-width="4.6"/>
<line x1="359.9" y1="1728" x2="359.9" y2="1745" stroke-width="4.6"/>
<line x1="599.6" y1="1728" x2="599.6" y2="1745" stroke-width="4.6"/>
<line x1="839.4" y1="1728" x2="839.4" y2="1745" stroke-width="4.6"/>
<line x1="1079.1" y1="1728" x2="1079.1" y2="1745" stroke-width="4.6"/>
<line x1="1318.9" y1="1728" x2="1318.9" y2="1745" stroke-width="4.6"/>
<line x1="1577.7" y1="1728" x2="1577.7" y2="1761" stroke-width="4.6"/>
<line x1="1795.7" y1="1728" x2="1795.7" y2="1761" stroke-width="4.6"/>
<line x1="2013.7" y1="1728" x2="2013.7" y2="1761" stroke-width="4.6"/>
<line x1="2231.7" y1="1728" x2="2231.7" y2="1761" stroke-width="4.6"/>
<line x1="1468.8" y1="1728" x2="1468.8" y2="1745" stroke-width="4.6"/>
<line x1="1686.7" y1="1728" x2="1686.7" y2="1745" stroke-width="4.6"/>
<line x1="1904.7" y1="1728" x2="1904.7" y2="1745" stroke-width="4.6"/>
<line x1="2122.7" y1="1728" x2="2122.7" y2="1745" stroke-width="4.6"/>
<line x1="2340.6" y1="1728" x2="2340.6" y2="1745" stroke-width="4.6"/>
</g>
<g font-size="67" text-anchor="middle">
<text x="240.0" y="1834">1700</text>
<text x="479.8" y="1834">1600</text>
<text x="719.5" y="1834">1500</text>
<text x="959.2" y="1834">1400</text>
<text x="1199.0" y="1834">1300</text>
<text x="1577.7" y="1834">800</text>
<text x="1795.7" y="1834">700</text>
<text x="2013.7" y="1834">600</text>
<text x="2231.7" y="1834">500</text>
</g>
<text x="814" y="1972.4" font-size="100" textLength="866" lengthAdjust="spacingAndGlyphs">Wavenumbers /cm</text>
<text x="1684" y="1915" font-size="46">-1</text>
<text transform="translate(99.9,1117) rotate(-90)" font-size="100" textLength="752" lengthAdjust="spacingAndGlyphs">Raman Intensity</text>
<g class="b" font-size="60" font-weight="bold">
<text x="271.8" y="218">Amide I</text>
<text x="391.5" y="442.6">Phe,Tyr</text>
<text x="1071.5" y="345.3">Amide III</text>
<text x="1455" y="984.8" font-size="61">Tyr</text>
<text x="1827" y="1060.4" font-size="62">Tyr</text>
<text x="1921.5" y="935.8">Phe</text>
<text x="2152.5" y="1030.3">S-S</text>
</g>
<g font-size="62">
<text transform="translate(280,544) rotate(-90)" font-size="62">1680</text>
<text transform="translate(492,640) rotate(-90)" font-size="61">1605</text>
<text transform="translate(1286.6,576) rotate(-90)" font-size="61.5">1284</text>
<text transform="translate(1936.6,1204) rotate(-90)" font-size="63">644</text>
<text transform="translate(1998,1099) rotate(-90)" font-size="63">621</text>
<text transform="translate(2190.2,1198) rotate(-90)" font-size="63">525</text>
<text transform="translate(2257.3,1169) rotate(-90)" font-size="63">507</text>
</g>
<rect x="1811.7" y="112.8" width="523" height="251.5" fill="none" stroke="#000" stroke-width="4.6"/>
<line x1="1829" y1="159" x2="1961" y2="159" stroke="#000000" stroke-width="8"/>
<line x1="1829" y1="238" x2="1961" y2="238" stroke="#0000ff" stroke-width="8"/>
<line x1="1829" y1="317" x2="1961" y2="317" stroke="#800080" stroke-width="8"/>
<g font-size="56">
<text x="1989" y="177">0 Gy</text>
<text x="1972.5" y="256">HO</text>
<text x="2055" y="232" font-size="34">·</text>
<text x="2068" y="256">,</text>
<text x="2096" y="256">H</text>
<text x="2133" y="233" font-size="40">·</text>
<text x="2160" y="256">300Gy</text>
<text x="1988" y="334.8">e</text>
<text x="2020" y="356.5" font-size="30">aq</text>
<text x="2058" y="305" font-size="30">-</text>
<text x="2070" y="334.8">,</text>
<text x="2098" y="334.8">H</text>
<text x="2137" y="312" font-size="34">·</text>
<text x="2162" y="334.8">300Gy</text>
</g>
</svg></body></html>
